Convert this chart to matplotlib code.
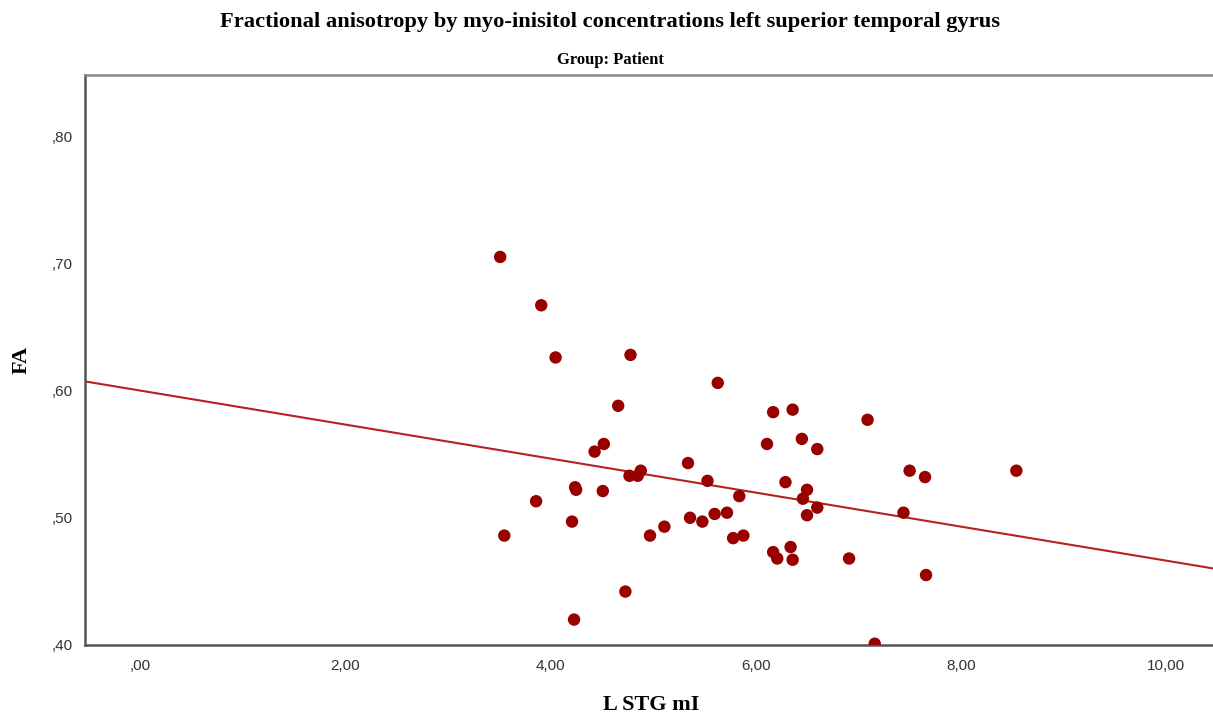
import numpy as np
import matplotlib
matplotlib.use('Agg')
import matplotlib.pyplot as plt
from matplotlib.ticker import FuncFormatter

# L STG mI (x) and FA (y)
stg_mi = [3.51, 3.91, 4.05, 4.78, 5.63, 4.66, 7.09, 6.17, 6.36, 4.52,
          4.43, 6.11, 6.45, 6.60, 5.34, 4.88, 4.77, 4.85, 5.53, 4.24,
          4.25, 4.51, 3.86, 6.29, 6.50, 5.84, 6.46, 6.60, 6.50, 4.21,
          3.55, 4.97, 5.11, 5.36, 5.48, 5.60, 5.72, 5.78, 5.88, 6.17,
          6.21, 6.34, 6.36, 6.91, 4.73, 4.23, 7.50, 7.65, 8.54, 7.44,
          7.66, 7.16]
fa = [0.705, 0.667, 0.626, 0.628, 0.606, 0.588, 0.577, 0.583, 0.585, 0.558,
      0.552, 0.558, 0.562, 0.554, 0.543, 0.537, 0.533, 0.533, 0.529, 0.524,
      0.522, 0.521, 0.513, 0.528, 0.522, 0.517, 0.515, 0.508, 0.502, 0.497,
      0.486, 0.486, 0.493, 0.500, 0.497, 0.503, 0.504, 0.484, 0.486, 0.473,
      0.468, 0.477, 0.467, 0.468, 0.442, 0.420, 0.537, 0.532, 0.537, 0.504,
      0.455, 0.401]

# linear fit line as shown
fit_intercept = 0.600
fit_slope = -0.01337

title = 'Fractional anisotropy by myo-inisitol concentrations left superior temporal gyrus'
subtitle = 'Group: Patient'
x_ticks = [0, 2, 4, 6, 8, 10]
y_ticks = [0.40, 0.50, 0.60, 0.70, 0.80]

fig = plt.figure(figsize=(12.13, 7.13), dpi=100)
ax = fig.add_axes([85/1213, 1 - 645/713, 1 - 85/1213 + 0.002, (645 - 75)/713])

xlim = (-0.536, 10.48)
ax.set_xlim(*xlim)
ax.set_ylim(0.40, 0.848)

xs = np.array(xlim)
ax.plot(xs, fit_intercept + fit_slope * xs, color='#b52020', lw=1.5, zorder=2)
ax.scatter(stg_mi, fa, s=80, color='#990000', edgecolors='none', zorder=3)

ax.set_xticks(x_ticks)
ax.set_yticks(y_ticks)

def comma_fmt(v, pos):
    s = '%.2f' % v
    if s.startswith('0'):
        s = s[1:]
    return s.replace('.', ',')

ax.xaxis.set_major_formatter(FuncFormatter(comma_fmt))
ax.yaxis.set_major_formatter(FuncFormatter(comma_fmt))
ax.tick_params(length=0, labelsize=11, labelcolor='#333333')
ax.tick_params(axis='x', pad=10)
ax.tick_params(axis='y', pad=9)
for lab in ax.get_xticklabels() + ax.get_yticklabels():
    lab.set_family('Liberation Sans')

ax.spines['right'].set_visible(False)
ax.spines['left'].set_color('#555555')
ax.spines['bottom'].set_color('#555555')
ax.spines['top'].set_color('#888888')
for sp in ['left', 'bottom', 'top']:
    ax.spines[sp].set_linewidth(1.8)

serif = dict(family='Liberation Serif', weight='bold', color='black')
fig.text(0.503, 1 - 22/713, title, ha='center', va='center', fontsize=16.2, **serif)
fig.text(0.503, 1 - 60/713, subtitle, ha='center', va='center', fontsize=12, **serif)
fig.text(651/1213, 1 - 705/713, 'L STG mI', ha='center', va='center', fontsize=16, **serif)
fig.text(22/1213, 1 - 360/713, 'FA', ha='center', va='center', rotation=90, fontsize=16, **serif)

plt.savefig('out.png', dpi=100)
